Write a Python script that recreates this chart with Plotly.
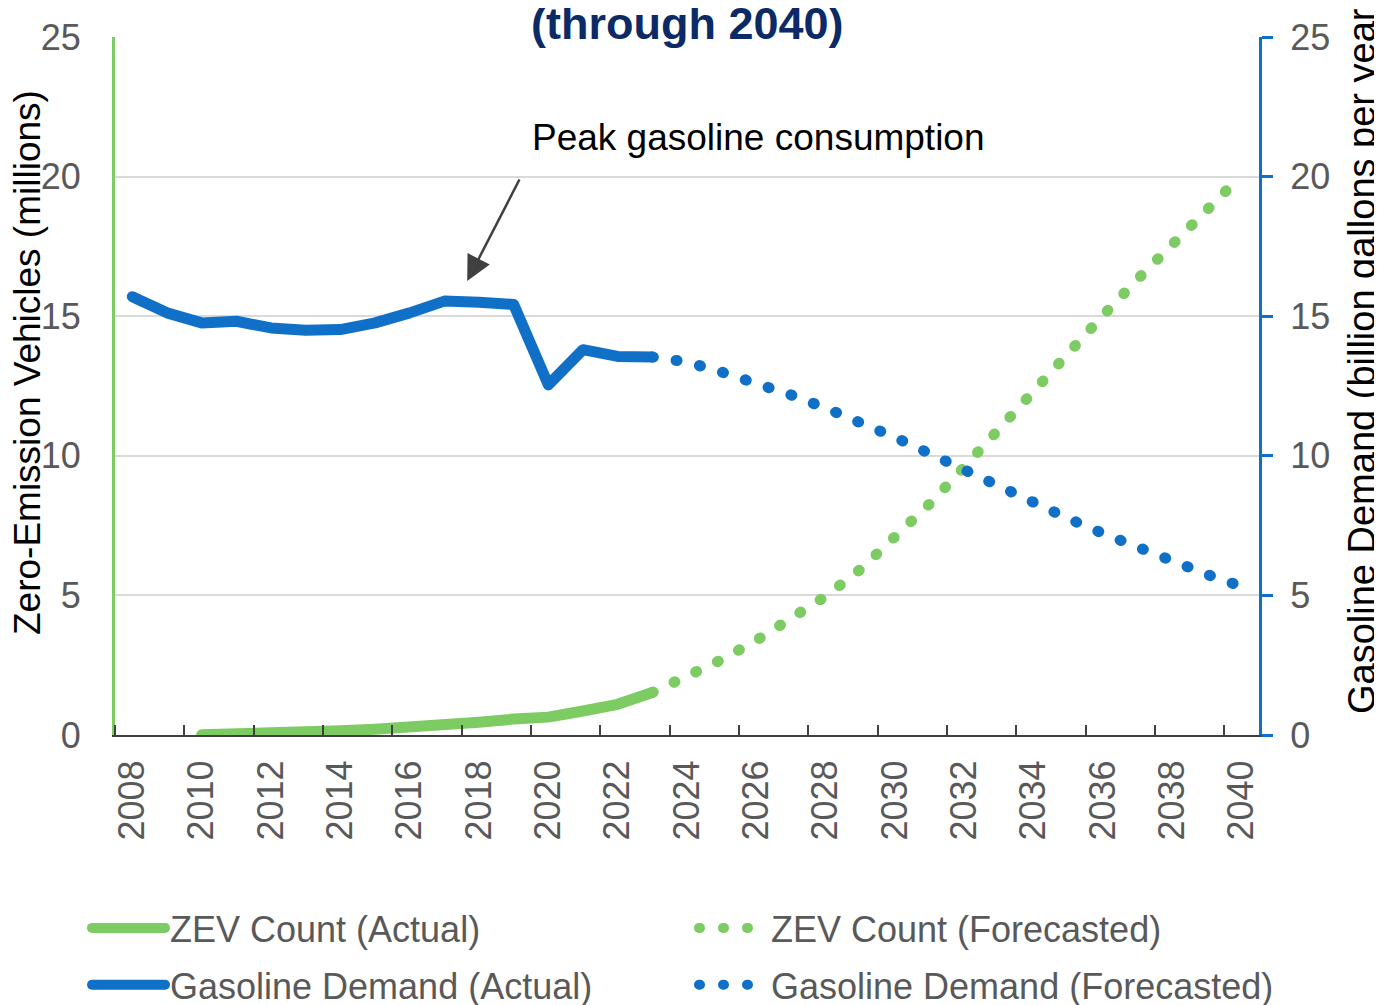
import plotly.graph_objects as go

# ---------------- data ----------------
gas_actual_years = list(range(2008, 2024))
gas_actual = [15.70, 15.12, 14.76, 14.82, 14.58, 14.50, 14.52, 14.76,
              15.12, 15.54, 15.50, 15.42, 12.54, 13.80, 13.56, 13.54]

zev_actual_years = list(range(2010, 2024))
zev_actual = [0.01, 0.03, 0.06, 0.10, 0.15, 0.21, 0.27, 0.35,
              0.46, 0.57, 0.64, 0.86, 1.10, 1.52]

forecast_years = list(range(2023, 2041))
gas_forecast = [13.54, 13.36, 13.00, 12.61, 12.18, 11.71, 11.23, 10.66, 10.08,
                9.48, 8.89, 8.28, 7.75, 7.22, 6.71, 6.21, 5.75, 5.32]
zev_forecast = [1.52, 2.06, 2.70, 3.39, 4.16, 4.97, 5.93, 7.04, 8.28,
                9.60, 10.96, 12.41, 13.72, 15.03, 16.33, 17.60, 18.83, 20.05]

year_ticks = list(range(2008, 2041, 2))
year_labels = [str(y) for y in year_ticks]
boundary_ticks = [y + 0.5 for y in range(2007, 2040, 2)]
value_ticks = [0, 5, 10, 15, 20, 25]

title_text = "(through 2040)"
left_title = "Zero-Emission Vehicles (millions)"
right_title = "Gasoline Demand (billion gallons per year)"
peak_label = "Peak gasoline consumption"
peak_arrow_head = (2017.66, 16.26)
peak_arrow_tail = (2019.19, 19.95)

# ---------------- style ----------------
GREEN = "#7DCB63"
BLUE = "#1070C8"
NAVY = "#0B2A66"
GRAY = "#595959"
FONT = "Liberation Sans, Arial, sans-serif"
LW = 11
DOTS = "1px,23px"

OFF = 8                      # page body margin
W, H = 1382 - OFF, 1005 - OFF
L, R, T, B = 107, 123, 29, 270
pw, ph = W - L - R, H - T - B


def px_x(p):
    return (p - OFF - L) / pw


def px_y(p):
    return (H - B - (p - OFF)) / ph


fig = go.Figure()

fig.add_trace(go.Scatter(
    x=zev_actual_years, y=zev_actual, mode="lines", name="ZEV Count (Actual)",
    line=dict(color=GREEN, width=LW), legend="legend", legendgroup="a",
    hoverinfo="skip"))
fig.add_trace(go.Scatter(
    x=forecast_years, y=zev_forecast, mode="lines", name="ZEV Count (Forecasted)",
    line=dict(color=GREEN, width=LW, dash=DOTS), legend="legend2", legendgroup="b",
    hoverinfo="skip"))
fig.add_trace(go.Scatter(
    x=gas_actual_years, y=gas_actual, mode="lines", name="Gasoline Demand (Actual)",
    line=dict(color=BLUE, width=LW), yaxis="y2", legend="legend", legendgroup="c",
    hoverinfo="skip"))
fig.add_trace(go.Scatter(
    x=forecast_years, y=gas_forecast, mode="lines", name="Gasoline Demand (Forecasted)",
    line=dict(color=BLUE, width=LW, dash=DOTS), yaxis="y2", legend="legend2",
    legendgroup="d", hoverinfo="skip"))

legend_common = dict(
    orientation="v", font=dict(family=FONT, size=36, color=GRAY),
    bgcolor="rgba(0,0,0,0)", xanchor="left", yanchor="top",
    tracegroupgap=7, traceorder="grouped")

fig.update_layout(
    width=W, height=H,
    margin=dict(l=L, r=R, t=T, b=B, autoexpand=False),
    plot_bgcolor="white", paper_bgcolor="white",
    font=dict(family=FONT, size=36, color=GRAY),
    showlegend=True,
    legend=dict(x=px_x(87), y=px_y(898), itemwidth=73, **legend_common),
    legend2=dict(x=px_x(694), y=px_y(898), itemwidth=67, **legend_common),
    xaxis=dict(
        range=[2007.5, 2040.5], tickmode="array", tickvals=year_ticks,
        ticktext=year_labels, tickangle=-90, ticks="",
        tickfont=dict(family=FONT, size=36, color=GRAY),
        ticklabelstandoff=9,
        showline=True, linecolor="#404040", linewidth=2, showgrid=False,
        zeroline=False,
        minor=dict(tickmode="array", tickvals=boundary_ticks, ticks="inside",
                   ticklen=10, tickwidth=2, tickcolor="#404040", showgrid=False),
    ),
    yaxis=dict(
        range=[0, 25], tickmode="array", tickvals=value_ticks, ticks="",
        tickfont=dict(family=FONT, size=36, color=GRAY),
        ticklabelstandoff=24,
        showline=True, linecolor=GREEN, linewidth=3,
        showgrid=True, gridcolor="#DADADA", gridwidth=2, zeroline=False,
    ),
    yaxis2=dict(
        range=[0, 25], tickmode="array", tickvals=value_ticks, overlaying="y",
        side="right", ticks="outside", ticklen=11, tickwidth=3, tickcolor=BLUE,
        tickfont=dict(family=FONT, size=36, color=GRAY),
        ticklabelstandoff=10,
        showline=True, linecolor=BLUE, linewidth=3, showgrid=False, zeroline=False,
    ),
    hovermode=False,
)

fig.add_annotation(
    x=px_x(687), y=px_y(23), xref="paper", yref="paper", text=f"<b>{title_text}</b>",
    showarrow=False, font=dict(family=FONT, size=45, color=NAVY),
    xanchor="center", yanchor="middle")
fig.add_annotation(
    x=px_x(28), y=px_y(363), xref="paper", yref="paper", text=left_title,
    textangle=-90, showarrow=False, font=dict(family=FONT, size=37, color="black"),
    xanchor="center", yanchor="middle")
fig.add_annotation(
    x=px_x(1362), y=px_y(355), xref="paper", yref="paper", text=right_title,
    textangle=-90, showarrow=False, font=dict(family=FONT, size=38, color="black"),
    xanchor="center", yanchor="middle")
fig.add_annotation(
    x=px_x(530), y=px_y(137), xref="paper", yref="paper", text=peak_label,
    showarrow=False, font=dict(family=FONT, size=37, color="black"),
    xanchor="left", yanchor="middle")
fig.add_annotation(
    x=peak_arrow_head[0], y=peak_arrow_head[1], xref="x", yref="y",
    ax=peak_arrow_tail[0], ay=peak_arrow_tail[1], axref="x", ayref="y",
    text="", showarrow=True, arrowhead=2, arrowsize=2.0, arrowwidth=2.5,
    arrowcolor="#404040")

post = """
var gd = document.getElementById('{plot_id}');
function rc(){
  gd.querySelectorAll('path.js-line, .legendlines path').forEach(function(p){
    p.style.strokeLinecap = 'round'; p.style.strokeLinejoin = 'round';
  });
}
rc();
if (gd.on) { gd.on('plotly_afterplot', rc); }
"""

fig.write_html("out.html", config={"displayModeBar": False}, post_script=post)
